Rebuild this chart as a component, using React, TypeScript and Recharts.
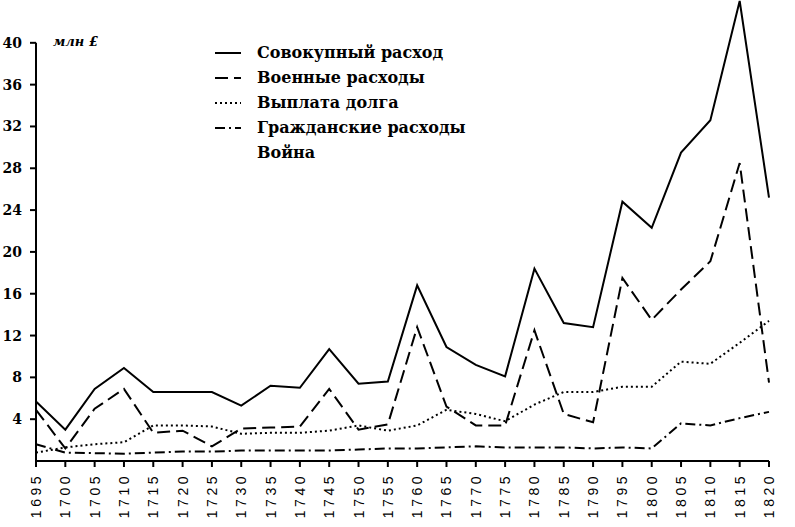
import React from 'react';
import { LineChart, Line, XAxis, YAxis, ReferenceLine } from 'recharts';

const years = [1695, 1700, 1705, 1710, 1715, 1720, 1725, 1730, 1735, 1740, 1745, 1750, 1755, 1760, 1765, 1770, 1775, 1780, 1785, 1790, 1795, 1800, 1805, 1810, 1815, 1820];
const total = [5.7, 3.0, 6.9, 8.9, 6.6, 6.6, 6.6, 5.3, 7.2, 7.0, 10.7, 7.4, 7.6, 16.8, 10.9, 9.2, 8.1, 18.4, 13.2, 12.8, 24.8, 22.3, 29.5, 32.6, 44.0, 25.2];
const military = [4.9, 1.2, 5.0, 6.9, 2.7, 2.9, 1.4, 3.1, 3.2, 3.3, 6.9, 3.0, 3.5, 12.8, 5.2, 3.4, 3.4, 12.5, 4.5, 3.7, 17.5, 13.5, 16.4, 19.1, 28.5, 7.5];
const debt = [0.8, 1.3, 1.6, 1.8, 3.4, 3.4, 3.3, 2.6, 2.7, 2.7, 2.9, 3.4, 2.9, 3.4, 4.9, 4.5, 3.8, 5.4, 6.6, 6.6, 7.1, 7.1, 9.5, 9.3, 11.3, 13.4];
const civil = [1.6, 0.8, 0.75, 0.7, 0.8, 0.9, 0.9, 1.0, 1.0, 1.0, 1.0, 1.1, 1.2, 1.2, 1.3, 1.4, 1.3, 1.3, 1.3, 1.2, 1.3, 1.2, 3.6, 3.4, 4.1, 4.7];
const yTicks = [4, 8, 12, 16, 20, 24, 28, 32, 36, 40];

const seriesNames = ['Совокупный расход', 'Военные расходы', 'Выплата долга', 'Гражданские расходы'];
const warLabel = 'Война';
const unitLabel = 'млн £';

const data = years.map((y, i) => ({ year: y, total: total[i], military: military[i], debt: debt[i], civil: civil[i] }));

const dashes = ['', '13 6', '2 3', '10 4 2 4'];
const serif = '"DejaVu Serif", "Liberation Serif", serif';

const XTick = (props: any) => {
  const { x, y, payload } = props;
  return (
    <text x={x} y={y} transform={`rotate(-90 ${x} ${y})`} textAnchor="end" dy={5} dx={-4}
      fontFamily='"Liberation Sans", Arial, sans-serif' fontSize={14} letterSpacing={3.5} fill="#000">
      {payload.value}
    </text>
  );
};

const LegendBox = () => (
  <div style={{ position: 'absolute', left: 215, top: 40, fontFamily: serif, fontWeight: 'bold', fontSize: 16, color: '#000', lineHeight: '25px' }}>
    {seriesNames.map((n, i) => (
      <div key={n} style={{ display: 'flex', alignItems: 'center', height: 25 }}>
        <svg width={42} height={10} style={{ flex: 'none' }}>
          <line x1={0} y1={5} x2={26} y2={5} stroke="#000" strokeWidth={2} strokeDasharray={dashes[i] || undefined} />
        </svg>
        <span style={{ whiteSpace: 'nowrap' }}>{n}</span>
      </div>
    ))}
    <div style={{ display: 'flex', alignItems: 'center', height: 25 }}>
      <span style={{ marginLeft: 42 }}>{warLabel}</span>
    </div>
  </div>
);

export default function App() {
  return (
    <div style={{ position: 'absolute', left: 0, top: 0, width: 795, height: 527, background: '#fff' }}>
      <LineChart width={795} height={527} data={data} margin={{ top: 1, right: 26, left: 0, bottom: 0 }}>
        <XAxis dataKey="year" type="number" domain={[1695, 1820]} ticks={years} interval={0}
          height={66} stroke="#000" strokeWidth={2} tickSize={6} tick={<XTick />} />
        <YAxis type="number" domain={[0, 44]} ticks={yTicks} width={36} stroke="#000" strokeWidth={2}
          axisLine={false} tickSize={6} tickMargin={8} interval={0}
          tick={{ fill: '#000', fontFamily: serif, fontSize: 14, fontWeight: 'bold' }} />
        <ReferenceLine segment={[{ x: 1695, y: 0 }, { x: 1695, y: 40 }]} stroke="#000" strokeWidth={2} />
        <Line type="linear" dataKey="total" stroke="#000" strokeWidth={2} dot={false} isAnimationActive={false} />
        <Line type="linear" dataKey="military" stroke="#000" strokeWidth={2} strokeDasharray={dashes[1]} dot={false} isAnimationActive={false} />
        <Line type="linear" dataKey="debt" stroke="#000" strokeWidth={2} strokeDasharray={dashes[2]} dot={false} isAnimationActive={false} />
        <Line type="linear" dataKey="civil" stroke="#000" strokeWidth={2} strokeDasharray={dashes[3]} dot={false} isAnimationActive={false} />
      </LineChart>
      <LegendBox />
      <div style={{ position: 'absolute', left: 53, top: 34, fontFamily: serif, fontStyle: 'italic', fontWeight: 'bold', fontSize: 13 }}>{unitLabel}</div>
    </div>
  );
}
